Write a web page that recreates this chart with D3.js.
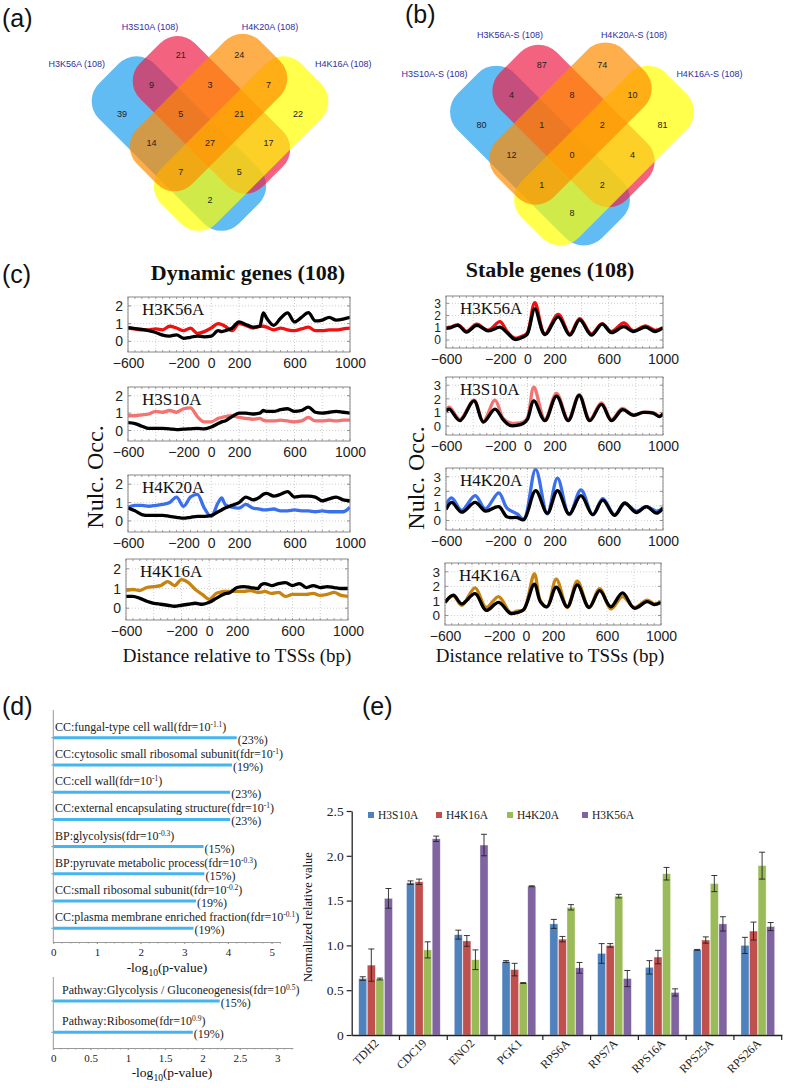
<!DOCTYPE html>
<html>
<head>
<meta charset="utf-8">
<script src="https://d3js.org/d3.v7.min.js"></script>
<style>
body { margin: 0; background: #fff; }
</style>
</head>
<body>
<div id="area"></div>
<script>
// ---------- (a) / (b) Venn counts ----------
var vennA_names = ["H3K56A (108)", "H3S10A (108)", "H4K20A (108)", "H4K16A (108)"];
var vennA_counts = [39, 21, 24, 22, 9, 3, 7, 5, 21, 14, 27, 17, 7, 5, 2];
var vennB_names = ["H3S10A-S (108)", "H3K56A-S (108)", "H4K20A-S (108)", "H4K16A-S (108)"];
var vennB_counts = [80, 87, 74, 81, 4, 8, 10, 1, 2, 12, 0, 4, 1, 2, 8];

// ---------- (c) nucleosome occupancy profiles ----------
var dynX = [-600,-550,-500,-450,-400,-350,-300,-250,-200,-150,-100,-50,0,50,75,100,150,200,250,300,350,375,400,450,500,550,600,650,700,750,800,850,900,950,1000];
var dynH3K56A_mut = [.75,.7,.65,.65,.7,.65,.85,.75,.6,.75,.45,.55,.75,1.0,.95,.85,.6,1.0,.9,.75,.85,.85,.8,.65,.75,.65,.6,.7,.8,.6,.6,.65,.65,.7,.75];
var dynH3K56A_wt  = [.77,.72,.68,.6,.5,.35,.3,.37,.17,.23,.3,.25,.29,.6,.55,.6,.75,1.1,.95,.8,.85,1.6,1.3,.9,1.3,1.6,1.1,1.35,1.62,1.15,1.2,1.35,1.2,1.25,1.35];
var dynH3S10A_mut = [.85,.85,.9,.95,1.1,1.05,1.15,1.05,1.25,1.3,.8,.5,.5,.7,.75,.8,.85,.75,.7,.65,.7,.6,.55,.55,.6,.55,.5,.55,.75,.55,.55,.6,.55,.6,.6];
var dynH3S10A_wt  = [.45,.4,.25,.12,.12,.12,.1,.05,.08,.1,.12,.1,.2,.4,.5,.55,.8,1.0,1.0,.95,1.0,1.15,1.1,1.1,1.2,1.25,1.1,1.15,1.35,1.05,1.0,1.05,1.1,1.05,1.0];
var dynH4K20A_mut = [.75,.85,.85,.8,.85,.9,1.0,1.3,.8,1.3,1.45,.7,.25,1.0,1.25,.9,.75,.7,.9,.7,.65,.6,.6,.65,.55,.55,.6,.55,.55,.5,.55,.5,.5,.5,.75];
var dynH4K20A_wt  = [.7,.55,.35,.3,.3,.3,.25,.2,.15,.2,.25,.25,.3,.5,.6,.7,.85,1.0,1.3,1.15,1.3,1.45,1.5,1.35,1.45,1.6,1.3,1.35,1.35,1.3,1.1,1.2,1.3,1.15,1.1];
var dynH4K16A_mut = [.9,.95,.9,1.05,1.1,1.15,1.35,1.15,1.45,1.3,.95,.7,.45,.75,.8,.85,.85,.85,.85,.9,.8,.82,.85,.75,.8,.6,.7,.7,.7,.75,.65,.7,.8,.65,.6];
var dynH4K16A_wt  = [.6,.6,.5,.35,.25,.2,.15,.1,.15,.2,.25,.2,.3,.5,.6,.7,.8,1.05,1.1,1.05,1.0,1.2,1.25,1.15,1.25,1.3,1.15,1.25,1.05,1.15,1.05,1.1,1.05,1.0,1.0];

var stbH3K56A_x   = [-600,-570,-509,-448,-374,-288,-202,-150,-92,-31,0,55,129,227,313,386,472,551,620,711,779,872,939,1000];
var stbH3K56A_mut = [1.0,1.05,1.25,.7,1.3,.8,1.5,.7,.15,.35,.6,3.05,.5,2.1,.5,1.75,.5,1.35,.7,1.4,.75,1.15,.8,1.0];
var stbH3K56A_wt  = [.95,1.0,1.2,.65,1.2,.75,1.05,.6,.05,.25,.5,2.55,.45,1.9,.4,1.65,.4,1.3,.6,1.1,.7,1.05,.7,1.0];
var stbH3S10A_x   = [-600,-575,-497,-394,-325,-239,-180,-129,-31,0,48,129,215,301,382,460,546,620,700,779,853,926,975,1000];
var stbH3S10A_mut = [1.15,1.4,.5,1.9,.35,1.9,.6,.25,.3,.6,2.85,.5,2.4,.5,2.3,.5,1.7,.5,1.3,.8,1.0,1.0,.75,.9];
var stbH3S10A_wt  = [1.1,1.25,.4,1.85,.3,1.25,.5,.05,.2,.5,1.85,.4,2.2,.4,2.25,.4,1.6,.4,1.2,.8,1.0,.95,.7,.9];
var stbH4K20A_x   = [-600,-558,-484,-385,-310,-211,-150,-75,-26,61,147,222,308,395,482,556,643,717,803,878,952,1000];
var stbH4K20A_mut = [1.1,1.55,.7,1.7,.8,1.9,.85,.45,.1,3.5,.45,2.9,.4,2.1,.4,1.5,.4,1.15,.65,.95,.65,.85];
var stbH4K20A_wt  = [.75,1.25,.57,1.25,.65,.95,.25,.2,.05,2.05,.5,2.05,.45,1.7,.4,1.4,.35,1.2,.55,.95,.5,.85];
var stbH4K16A_x   = [-600,-538,-476,-377,-295,-203,-116,-67,-17,62,107,157,224,306,380,467,546,628,715,802,896,950,1000];
var stbH4K16A_mut = [.9,1.35,.7,1.9,.55,1.3,.2,.3,.4,2.85,1.0,.6,2.5,.55,2.35,.55,1.85,.45,1.3,.55,1.05,.8,.95];
var stbH4K16A_wt  = [.9,1.4,.8,1.5,.35,.9,.15,.2,.4,2.15,.95,.6,1.95,.6,2.1,.55,1.7,.6,1.55,.5,.95,.75,.9];

var profXTicks = [-600, -200, 0, 200, 600, 1000];
var profGrid = [-600, -400, -200, 0, 200, 400, 600, 800, 1000];

// ---------- (d) enrichment ----------
var goTerms = ["CC:fungal-type cell wall", "CC:cytosolic small ribosomal subunit", "CC:cell wall",
  "CC:external encapsulating structure", "BP:glycolysis", "BP:pyruvate metabolic process",
  "CC:small ribosomal subunit", "CC:plasma membrane enriched fraction"];
var goFdrExp = ["-1.1", "-1", "-1", "-1", "-0.3", "-0.3", "-0.2", "-0.1"];
var goLogP = [4.2, 4.09, 4.05, 4.05, 3.44, 3.46, 3.27, 3.21];
var goPct = ["(23%)", "(19%)", "(23%)", "(23%)", "(15%)", "(15%)", "(19%)", "(19%)"];
var goTicks = [0, 1, 2, 3, 4, 5];
var pathTerms = ["Pathway:Glycolysis / Gluconeogenesis", "Pathway:Ribosome"];
var pathFdrExp = ["0.5", "0.9"];
var pathLogP = [2.23, 1.87];
var pathPct = ["(15%)", "(19%)"];
var pathTicks = [0, 0.5, 1, 1.5, 2, 2.5, 3];

// ---------- (e) qPCR ----------
var genes = ["TDH2", "CDC19", "ENO2", "PGK1", "RPS6A", "RPS7A", "RPS16A", "RPS25A", "RPS26A"];
var mutants = ["H3S10A", "H4K16A", "H4K20A", "H3K56A"];
var valH3S10A = [0.63, 1.70, 1.12, 0.82, 1.24, 0.91, 0.755, 0.95, 1.0];
var errH3S10A = [0.02, 0.02, 0.05, 0.01, 0.05, 0.11, 0.075, 0.005, 0.09];
var valH4K16A = [0.78, 1.71, 1.05, 0.73, 1.07, 1.0, 0.87, 1.06, 1.16];
var errH4K16A = [0.18, 0.03, 0.06, 0.07, 0.03, 0.02, 0.075, 0.035, 0.1];
var valH4K20A = [0.625, 0.95, 0.84, 0.58, 1.425, 1.55, 1.80, 1.69, 1.89];
var errH4K20A = [0.01, 0.09, 0.11, 0.005, 0.03, 0.02, 0.07, 0.09, 0.15];
var valH3K56A = [1.525, 2.19, 2.12, 1.66, 0.75, 0.63, 0.475, 1.24, 1.21];
var errH3K56A = [0.11, 0.03, 0.12, 0.005, 0.06, 0.09, 0.04, 0.08, 0.045];
var qTicks = [0, 0.5, 1, 1.5, 2, 2.5];

var serif = "'Liberation Serif', 'Times New Roman', serif";
var sans = "'Liberation Sans', Arial, sans-serif";

var svg = d3.select("#area").append("svg")
  .attr("width", 787).attr("height", 1088)
  .style("background", "#fff");

// panel letters
[["(a)", 2, 27], ["(b)", 405, 23], ["(c)", 2, 283], ["(d)", 2, 715], ["(e)", 362, 715]].forEach(function(p) {
  svg.append("text").attr("x", p[1]).attr("y", p[2]).text(p[0])
    .style("font-family", sans).style("font-size", "25px").style("fill", "#111");
});

// ================= Venn =================
var vennShapes = [
  {x: -1.06, y: 0.02, len: 6.76, ang: 45, col: "#1ea0ee"},
  {x: 0.05, y: -0.96, len: 5.94, ang: 45, col: "#ee1f48"},
  {x: 1.06, y: 0.02, len: 6.76, ang: -45, col: "#ffff00"},
  {x: -0.05, y: -1.04, len: 5.94, ang: -45, col: "#ff8c00"}
];
var vennCells = [[-3,-1],[-1,-3],[1,-3],[3,-1],[-2,-2],[0,-2],[2,-2],[-1,-1],[1,-1],[-2,0],[0,0],[2,0],[-1,1],[1,1],[0,1.93]];
var vennLabelPos = [[-4.55,-2.7],[-2.05,-3.97],[2.05,-3.97],[4.55,-2.7]];

function drawVenn(cx, cy, s, names, counts) {
  var g = svg.append("g");
  var ux = d3.scaleLinear().domain([0, 1]).range([cx, cx + s]);
  var uy = d3.scaleLinear().domain([0, 1]).range([cy, cy + s]);
  var shortW = 2.66 * s, r = 0.85 * s;
  g.selectAll("rect").data(vennShapes).enter().append("rect")
    .attr("x", function(d) { return -d.len * s / 2; })
    .attr("y", -shortW / 2)
    .attr("width", function(d) { return d.len * s; })
    .attr("height", shortW)
    .attr("rx", r).attr("ry", r)
    .attr("transform", function(d) { return "translate(" + ux(d.x) + "," + uy(d.y) + ") rotate(" + d.ang + ")"; })
    .style("fill", function(d) { return d.col; })
    .style("fill-opacity", 0.7);
  g.selectAll("text.n").data(counts).enter().append("text")
    .attr("x", function(d, i) { return ux(vennCells[i][0]); })
    .attr("y", function(d, i) { return uy(vennCells[i][1]); })
    .attr("dy", "0.35em")
    .attr("text-anchor", "middle")
    .style("font-family", sans).style("font-size", "9px").style("fill", "#222")
    .text(function(d) { return d; });
  g.selectAll("text.l").data(names).enter().append("text")
    .attr("x", function(d, i) { return ux(vennLabelPos[i][0]); })
    .attr("y", function(d, i) { return uy(vennLabelPos[i][1]); })
    .attr("dy", "0.35em")
    .attr("text-anchor", "middle")
    .style("font-family", sans).style("font-size", "9px").style("fill", "#2e2e9e")
    .text(function(d) { return d; });
}
drawVenn(210, 143, 29.3, vennA_names, vennA_counts);
drawVenn(572, 155, 30.2, vennB_names, vennB_counts);

// ================= (c) profiles =================
var clipN = 0;
function profile(x0, y0, w, h, ydom, yticks, label, xs, mut, wt, color, curve, yFont) {
  var g = svg.append("g").attr("transform", "translate(" + x0 + "," + y0 + ")");
  var x = d3.scaleLinear().domain([-600, 1000]).range([0, w]);
  var y = d3.scaleLinear().domain(ydom).range([h, 0]);
  var id = "clip" + (clipN++);
  g.append("clipPath").attr("id", id).append("rect").attr("width", w).attr("height", h);

  g.selectAll("line.gx").data(profGrid).enter().append("line")
    .attr("x1", x).attr("x2", x).attr("y1", 0).attr("y2", h)
    .style("stroke", "#bbb").style("stroke-dasharray", "1,2").style("stroke-width", 0.7);
  g.selectAll("line.gy").data(yticks).enter().append("line")
    .attr("x1", 0).attr("x2", w).attr("y1", y).attr("y2", y)
    .style("stroke", "#bbb").style("stroke-dasharray", "1,2").style("stroke-width", 0.7);

  // minor ticks top and bottom
  var minor = x.ticks(32);
  g.selectAll("line.mb").data(minor).enter().append("line")
    .attr("x1", x).attr("x2", x).attr("y1", h).attr("y2", h - 2)
    .style("stroke", "#777").style("stroke-width", 0.7);
  g.selectAll("line.mt").data(minor).enter().append("line")
    .attr("x1", x).attr("x2", x).attr("y1", 0).attr("y2", 2)
    .style("stroke", "#777").style("stroke-width", 0.7);
  g.selectAll("line.yr").data(yticks).enter().append("line")
    .attr("x1", w).attr("x2", w - 3).attr("y1", y).attr("y2", y)
    .style("stroke", "#777").style("stroke-width", 0.8);
  g.selectAll("line.yl").data(yticks).enter().append("line")
    .attr("x1", 0).attr("x2", 3).attr("y1", y).attr("y2", y)
    .style("stroke", "#777").style("stroke-width", 0.8);

  var line = d3.line()
    .x(function(d, i) { return x(xs[i]); })
    .y(function(d) { return y(d); })
    .curve(curve);
  var lg = g.append("g").attr("clip-path", "url(#" + id + ")");
  lg.append("path").datum(mut).attr("d", line)
    .style("fill", "none").style("stroke", color).style("stroke-width", 3.3).style("stroke-linejoin", "round");
  lg.append("path").datum(wt).attr("d", line)
    .style("fill", "none").style("stroke", "#000").style("stroke-width", 3.3).style("stroke-linejoin", "round");

  g.append("rect").attr("width", w).attr("height", h)
    .style("fill", "none").style("stroke", "#888").style("stroke-width", 1);

  g.append("text").attr("x", 14).attr("y", 18).text(label)
    .style("font-family", serif).style("font-size", "17px").style("fill", "#111");

  var ax = g.append("g").attr("transform", "translate(0," + h + ")")
    .call(d3.axisBottom(x).tickValues(profXTicks).tickSize(0).tickPadding(6).tickFormat(d3.format("d")));
  ax.select(".domain").remove();
  ax.selectAll("text").style("font-family", sans).style("font-size", "14px").style("fill", "#222");
  var ay = g.append("g")
    .call(d3.axisLeft(y).tickValues(yticks).tickSize(0).tickPadding(5).tickFormat(d3.format("d")));
  ay.select(".domain").remove();
  ay.selectAll("text").style("font-family", sans).style("font-size", yFont + "px").style("fill", "#222");
}

var dynDom = [-0.6, 2.5], stbDom = [-0.65, 3.6];
var cDyn = d3.curveMonotoneX, cStb = d3.curveCatmullRom.alpha(0.5);
profile(128, 297, 222, 55, dynDom, [0, 1, 2], "H3K56A", dynX, dynH3K56A_mut, dynH3K56A_wt, "#f01010", cDyn, 14);
profile(128, 387, 222, 54, dynDom, [0, 1, 2], "H3S10A", dynX, dynH3S10A_mut, dynH3S10A_wt, "#f37272", cDyn, 14);
profile(128, 475, 222, 57, dynDom, [0, 1, 2], "H4K20A", dynX, dynH4K20A_mut, dynH4K20A_wt, "#3a70ee", cDyn, 14);
profile(126, 559, 222, 61, dynDom, [0, 1, 2], "H4K16A", dynX, dynH4K16A_mut, dynH4K16A_wt, "#c88410", cDyn, 14);

profile(446, 296, 217, 52, stbDom, [0, 1, 2, 3], "H3K56A", stbH3K56A_x, stbH3K56A_mut, stbH3K56A_wt, "#f01010", cStb, 12);
profile(446, 377, 217, 58, stbDom, [0, 1, 2, 3], "H3S10A", stbH3S10A_x, stbH3S10A_mut, stbH3S10A_wt, "#f37272", cStb, 13);
profile(446, 468, 217, 62, stbDom, [0, 1, 2, 3], "H4K20A", stbH4K20A_x, stbH4K20A_mut, stbH4K20A_wt, "#3a70ee", cStb, 13.5);
profile(445, 563, 216, 62, stbDom, [0, 1, 2, 3], "H4K16A", stbH4K16A_x, stbH4K16A_mut, stbH4K16A_wt, "#c88410", cStb, 13.5);

function txt(x, y, s, size, opts) {
  var t = svg.append("text").attr("x", x).attr("y", y).text(s)
    .style("font-family", serif).style("font-size", size + "px").style("fill", "#111");
  if (opts && opts.anchor) t.attr("text-anchor", opts.anchor);
  if (opts && opts.bold) t.style("font-weight", "bold");
  if (opts && opts.rot) t.attr("transform", "rotate(-90," + x + "," + y + ")");
  return t;
}
txt(248, 280, "Dynamic genes (108)", 22, {anchor: "middle", bold: true});
txt(550, 277, "Stable genes (108)", 22, {anchor: "middle", bold: true});
txt(103, 477, "Nulc. Occ.", 24, {anchor: "middle", rot: true});
txt(424, 478, "Nulc. Occ.", 24, {anchor: "middle", rot: true});
txt(237, 662, "Distance relative to TSSs (bp)", 19, {anchor: "middle"});
txt(550, 662, "Distance relative to TSSs (bp)", 19, {anchor: "middle"});

// ================= (d) enrichment bars =================
function enrich(terms, exps, vals, pcts, ticks, xdom, xr, yr, axTop, axBot, labX, minorStep, labSize) {
  var x = d3.scaleLinear().domain(xdom).range(xr);
  var y = d3.scalePoint().domain(terms).range(yr);
  var g = svg.append("g");
  g.append("line").attr("x1", xr[0]).attr("x2", xr[0]).attr("y1", axTop).attr("y2", axBot)
    .style("stroke", "#999").style("stroke-width", 1);
  g.selectAll("line.lt").data(terms).enter().append("line")
    .attr("x1", xr[0] - 2).attr("x2", xr[0]).attr("y1", y).attr("y2", y)
    .style("stroke", "#999");
  var ax = g.append("g").attr("transform", "translate(0," + axBot + ")")
    .call(d3.axisBottom(x).tickValues(ticks).tickSize(2).tickPadding(4).tickSizeOuter(0)
      .tickFormat(d3.format("~g")));
  ax.select(".domain").style("stroke", "#999");
  ax.selectAll(".tick line").style("stroke", "#999");
  ax.selectAll("text").style("font-family", serif).style("font-size", "11px").style("fill", "#222");
  var minor = x.ticks((xdom[1] - xdom[0]) / minorStep);
  g.selectAll("line.mn").data(minor).enter().append("line")
    .attr("x1", x).attr("x2", x).attr("y1", axBot).attr("y2", axBot + 1.5)
    .style("stroke", "#999");

  g.selectAll("line.bar").data(vals).enter().append("line")
    .attr("x1", x(0)).attr("x2", function(d) { return x(d); })
    .attr("y1", function(d, i) { return y(terms[i]); })
    .attr("y2", function(d, i) { return y(terms[i]); })
    .style("stroke", "#45b5ef").style("stroke-width", 3);

  var lab = g.selectAll("text.lab").data(terms).enter().append("text")
    .attr("x", labX).attr("y", function(d) { return y(d) - 7; })
    .style("font-family", serif).style("font-size", labSize + "px").style("fill", "#222");
  lab.append("tspan").text(function(d, i) { return d + "(fdr=10"; });
  lab.append("tspan").attr("dy", -4).style("font-size", "7.5px").text(function(d, i) { return exps[i]; });
  lab.append("tspan").attr("dy", 4).text(")");

  g.selectAll("text.pct").data(pcts).enter().append("text")
    .attr("x", function(d, i) { return x(vals[i]) + 1; })
    .attr("y", function(d, i) { return y(terms[i]) + 6; })
    .style("font-family", serif).style("font-size", labSize + "px").style("fill", "#222")
    .text(function(d) { return d; });
}
enrich(goTerms, goFdrExp, goLogP, goPct, goTicks, [0, 5.2], [53.3, 280.4], [737.7, 928.3], 710, 942, 55, 0.25, 12);
enrich(pathTerms, pathFdrExp, pathLogP, pathPct, pathTicks, [0, 3.21], [53.3, 292.8], [1001, 1032.3], 977, 1048, 62, 0.1, 12);

function logLabel(x, y) {
  var t = svg.append("text").attr("x", x).attr("y", y).attr("text-anchor", "middle")
    .style("font-family", serif).style("font-size", "13.5px").style("fill", "#111");
  t.append("tspan").text("-log");
  t.append("tspan").attr("dy", 4).style("font-size", "9.5px").text("10");
  t.append("tspan").attr("dy", -4).text("(p-value)");
}
logLabel(167, 972);
logLabel(172, 1077);

// ================= (e) grouped bars =================
var qVals = [valH3S10A, valH4K16A, valH4K20A, valH3K56A];
var qErrs = [errH3S10A, errH4K16A, errH4K20A, errH3K56A];
var qCols = ["#4f81bd", "#c0504d", "#9bbb59", "#8064a2"];

var xe = d3.scaleBand().domain(genes).range([351.7, 781.7]);
var xs = d3.scaleBand().domain(mutants).range([6.5, xe.bandwidth() - 6.5]).padding(0.06);
var ye = d3.scaleLinear().domain([0, 2.5]).range([1035, 811]);
var eg = svg.append("g");

mutants.forEach(function(m, k) {
  eg.selectAll("rect.b" + k).data(qVals[k]).enter().append("rect")
    .attr("x", function(d, i) { return xe(genes[i]) + xs(m); })
    .attr("y", function(d) { return ye(d); })
    .attr("width", xs.bandwidth())
    .attr("height", function(d) { return ye(0) - ye(d); })
    .style("fill", qCols[k]).style("stroke", "#fff").style("stroke-opacity", 0.6).style("stroke-width", 0.6);
});
mutants.forEach(function(m, k) {
  var ebar = eg.selectAll("g.e" + k).data(qErrs[k]).enter().append("g")
    .attr("transform", function(d, i) { return "translate(" + (xe(genes[i]) + xs(m) + xs.bandwidth() / 2) + ",0)"; });
  ebar.append("line").attr("x1", 0).attr("x2", 0)
    .attr("y1", function(d, i) { return ye(qVals[k][i] + d); })
    .attr("y2", function(d, i) { return ye(qVals[k][i] - d); });
  ebar.append("line").attr("x1", -3).attr("x2", 3)
    .attr("y1", function(d, i) { return ye(qVals[k][i] + d); })
    .attr("y2", function(d, i) { return ye(qVals[k][i] + d); });
  ebar.append("line").attr("x1", -3).attr("x2", 3)
    .attr("y1", function(d, i) { return ye(qVals[k][i] - d); })
    .attr("y2", function(d, i) { return ye(qVals[k][i] - d); });
  ebar.selectAll("line").style("stroke", "#222").style("stroke-width", 0.9);
});

var eay = eg.append("g").attr("transform", "translate(351.7,0)")
  .call(d3.axisLeft(ye).tickValues(qTicks).tickSize(5).tickPadding(3).tickSizeOuter(0)
    .tickFormat(function(d) { return d === 0 ? "0" : d3.format(".1f")(d); }));
eay.select(".domain").style("stroke", "#222").style("stroke-width", 1.3);
eay.selectAll(".tick line").style("stroke", "#222").style("stroke-width", 1.2);
eay.selectAll("text").style("font-family", serif).style("font-size", "13.5px").style("fill", "#222");

var eax = eg.append("g").attr("transform", "translate(0,1035)")
  .call(d3.axisBottom(xe).tickSize(0).tickPadding(0).tickSizeOuter(0));
eax.select(".domain").style("stroke", "#222").style("stroke-width", 1.5);
eax.selectAll("text")
  .attr("text-anchor", "end").attr("dy", 0).attr("y", 0)
  .attr("transform", "translate(4,9) rotate(-45)")
  .style("font-family", serif).style("font-size", "12px").style("fill", "#222");
eg.selectAll("line.bt").data(genes.slice(1).concat(["end"])).enter().append("line")
  .attr("x1", function(d) { return d === "end" ? xe.range()[1] : xe(d); })
  .attr("x2", function(d) { return d === "end" ? xe.range()[1] : xe(d); })
  .attr("y1", 1035).attr("y2", 1040)
  .style("stroke", "#222").style("stroke-width", 1.2);

txt(312, 917, "Normalized relative value", 12.5, {anchor: "middle", rot: true});

var legX = [368, 436, 507, 582];
var leg = eg.selectAll("g.leg").data(mutants).enter().append("g")
  .attr("transform", function(d, i) { return "translate(" + legX[i] + ",815)"; });
leg.append("rect").attr("x", 0).attr("y", -3).attr("width", 6).attr("height", 6)
  .style("fill", function(d, i) { return qCols[i]; });
leg.append("text").attr("x", 10).attr("y", 4).text(function(d) { return d; })
  .style("font-family", serif).style("font-size", "11.5px").style("fill", "#222");
</script>
</body>
</html>
